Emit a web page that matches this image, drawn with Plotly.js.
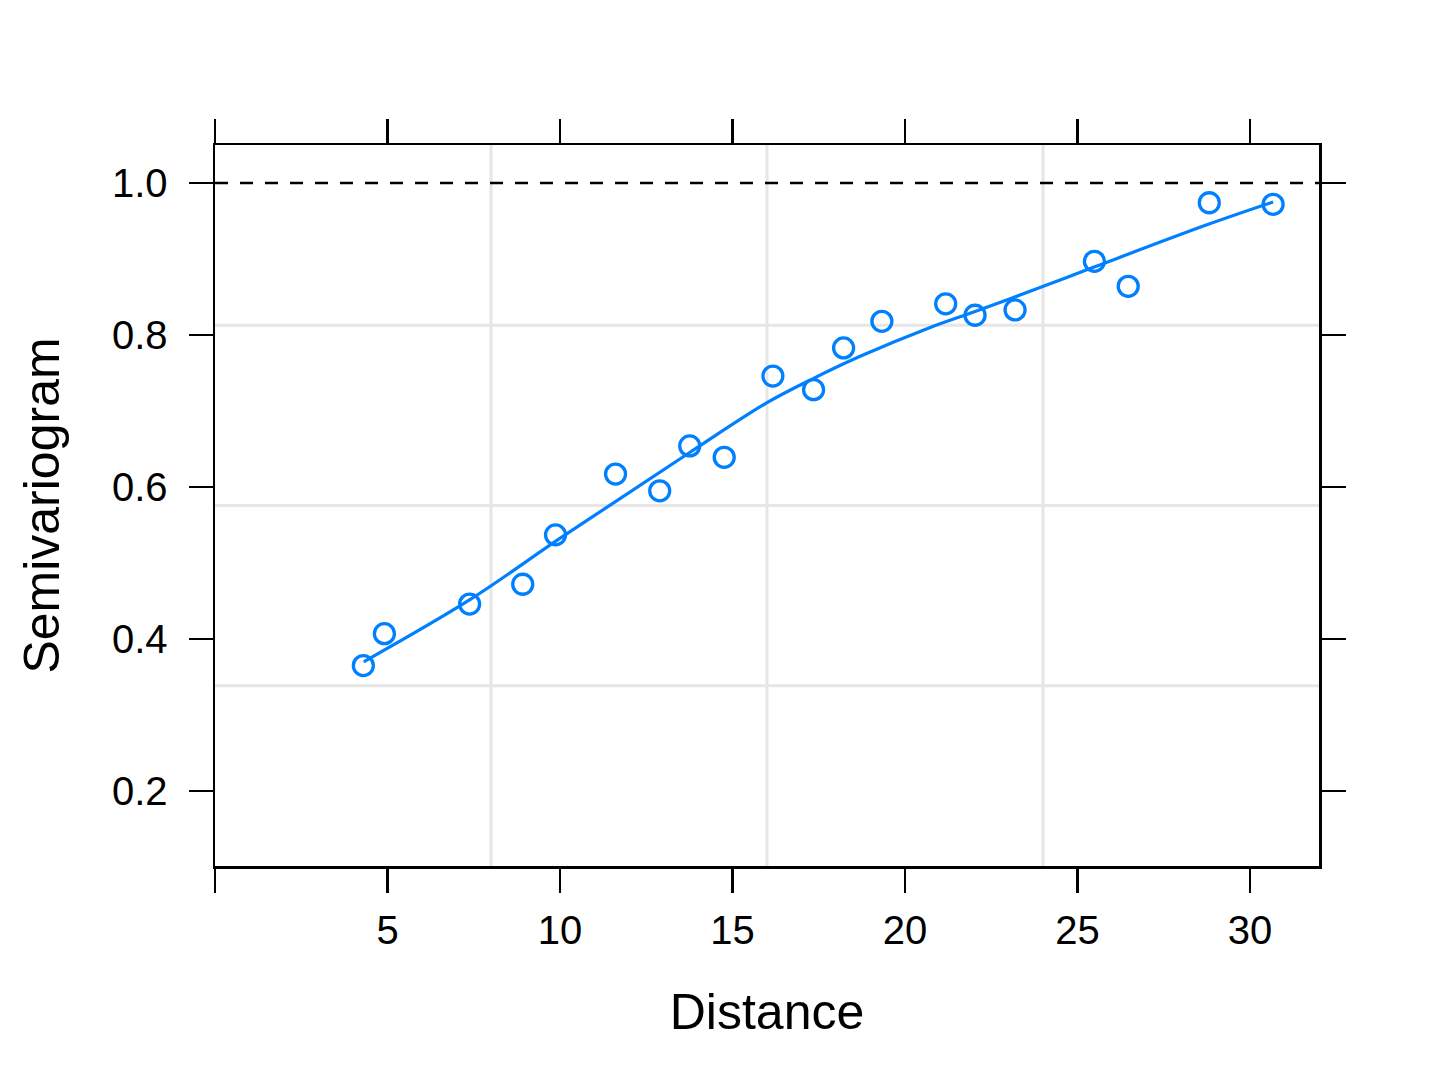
<!DOCTYPE html>
<html>
<head>
<meta charset="utf-8">
<script src="https://cdn.plot.ly/plotly-3.0.1.min.js"></script>
<style>html,body{margin:0;padding:0;background:#fff;}#chart{width:1438px;height:1079px;}</style>
</head>
<body>
<div id="chart"></div>
<script>
// Empirical semivariogram points
const distance = [4.30, 4.91, 7.38, 8.92, 9.87, 11.61, 12.89, 13.76, 14.76, 16.17, 17.35, 18.22, 19.33, 21.18, 22.03, 23.19, 25.49, 26.47, 28.82, 30.67];
const semivariogram = [0.365, 0.407, 0.446, 0.472, 0.537, 0.617, 0.595, 0.654, 0.639, 0.746, 0.728, 0.783, 0.818, 0.841, 0.826, 0.833, 0.897, 0.864, 0.974, 0.972];

// Smooth (loess) curve
const smoothX = [4.31, 7.40, 9.92, 11.75, 13.78, 16.00, 17.35, 18.70, 20.73, 22.03, 24.01, 25.46, 28.75, 30.67];
const smoothY = [0.370, 0.452, 0.530, 0.585, 0.646, 0.711, 0.743, 0.772, 0.810, 0.831, 0.864, 0.889, 0.945, 0.975];

// Axis ticks
const xTicks = [0, 5, 10, 15, 20, 25, 30];
const xTickText = ['', '5', '10', '15', '20', '25', '30'];
const yTicks = [0.2, 0.4, 0.6, 0.8, 1.0];
const yTickText = ['0.2', '0.4', '0.6', '0.8', '1.0'];
const xRange = [0, 32];
const yRange = [0.1013, 1.05];
const sillLevel = 1.0;

const blue = '#0080ff';
const font = 'Liberation Sans, Arial, Helvetica, sans-serif';

const traces = [
  {
    x: smoothX, y: smoothY, type: 'scatter', mode: 'lines',
    line: {color: blue, width: 3.2, shape: 'spline', smoothing: 1},
    hoverinfo: 'skip', showlegend: false
  },
  {
    x: distance, y: semivariogram, type: 'scatter', mode: 'markers',
    marker: {symbol: 'circle-open', size: 20, color: blue, line: {color: blue, width: 3.3}},
    showlegend: false
  }
];

const gridColor = '#e6e6e6';
const shapes = [];
[0.25, 0.5, 0.75].forEach(f => {
  shapes.push({type: 'line', xref: 'paper', yref: 'paper', x0: f, x1: f, y0: 0, y1: 1,
    line: {color: gridColor, width: 3}, layer: 'below'});
  shapes.push({type: 'line', xref: 'paper', yref: 'paper', x0: 0, x1: 1, y0: f, y1: f,
    line: {color: gridColor, width: 3}, layer: 'below'});
});
shapes.push({type: 'line', xref: 'paper', yref: 'y', x0: 0, x1: 1, y0: sillLevel, y1: sillLevel,
  line: {color: '#000', width: 2.5, dash: '13px,12px'}});

const layout = {
  width: 1438, height: 1079,
  margin: {l: 215, r: 119, t: 145, b: 213, pad: 0},
  paper_bgcolor: '#fff', plot_bgcolor: '#fff',
  font: {family: font, color: '#000', size: 40},
  showlegend: false,
  xaxis: {
    range: xRange, tickmode: 'array', tickvals: xTicks, ticktext: xTickText,
    ticks: 'outside', ticklen: 24, tickwidth: 2.5, tickcolor: '#000',
    showline: true, linecolor: '#000', linewidth: 2.5, mirror: 'ticks',
    showgrid: false, zeroline: false,
    tickfont: {family: font, size: 40, color: '#000'},
    ticklabelstandoff: 3,
    title: {text: 'Distance', font: {family: font, size: 50, color: '#000'}, standoff: 44},
    automargin: false
  },
  yaxis: {
    range: yRange, tickmode: 'array', tickvals: yTicks, ticktext: yTickText,
    ticks: 'outside', ticklen: 24, tickwidth: 2.5, tickcolor: '#000',
    showline: true, linecolor: '#000', linewidth: 2.5, mirror: 'ticks',
    showgrid: false, zeroline: false,
    tickfont: {family: font, size: 40, color: '#000'},
    ticklabelstandoff: 13,
    title: {text: 'Semivariogram', font: {family: font, size: 50, color: '#000'}, standoff: 37},
    automargin: false
  },
  shapes: shapes
};

Plotly.newPlot('chart', traces, layout, {staticPlot: true, displayModeBar: false});
</script>
</body>
</html>
